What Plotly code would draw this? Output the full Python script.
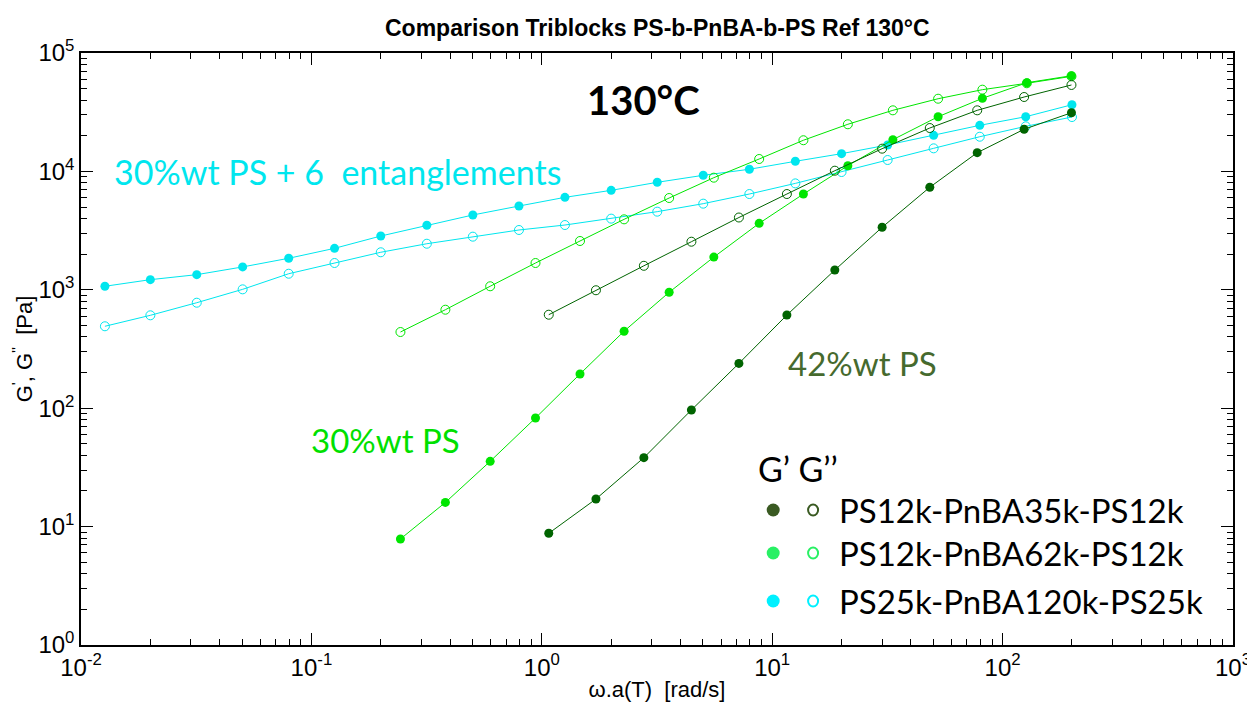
import plotly.graph_objects as go

# ---- data ----
w_c = [0.0127, 0.0200, 0.0318, 0.0503, 0.0797, 0.126, 0.200, 0.317, 0.502, 0.796, 1.26,
       2.00, 3.17, 5.02, 7.96, 12.6, 20.0, 31.7, 50.2, 79.6, 126, 200]
Gp_c = [1071, 1218, 1342, 1560, 1846, 2240, 2846, 3508, 4285, 5100, 6040,
        6920, 8090, 9270, 10420, 12170, 14120, 16720, 20170, 24500, 28970, 36570]
Gpp_c = [492, 609, 778, 1009, 1367, 1684, 2075, 2450, 2810, 3200, 3525,
         3990, 4570, 5340, 6440, 7920, 9880, 12480, 15660, 19630, 24030, 28790]

w_g = [0.2435, 0.3815, 0.597, 0.939, 1.465, 2.276, 3.571, 5.58, 8.78, 13.66, 21.3,
       33.4, 52.5, 81.7, 127.4, 199]
Gp_g = [7.86, 16.0, 35.6, 82.7, 194.5, 447, 953, 1890, 3644, 6440, 11170,
        18530, 28970, 41420, 56100, 64300]
Gpp_g = [440, 679, 1071, 1684, 2583, 3937, 5960, 8850, 12730, 18330, 25000,
         32800, 41100, 49000, 55500, 63500]

w_d = [1.072, 1.718, 2.773, 4.46, 7.17, 11.58, 18.7, 30.0, 48.3, 77.6, 124, 199]
Gp_d = [8.78, 17.1, 38.2, 96.6, 239, 612, 1469, 3373, 7345, 14390, 22700, 31300]
Gpp_d = [616, 991, 1595, 2548, 4080, 6440, 10140, 15560, 23250, 32800, 42500, 53700]

legend_labels = ["PS12k-PnBA35k-PS12k", "PS12k-PnBA62k-PS12k", "PS25k-PnBA120k-PS25k"]

x_exps = [-2, -1, 0, 1, 2, 3]
y_exps = [0, 1, 2, 3, 4, 5]

C_CYAN = "#00E6EE"
C_GREEN = "#00E600"
C_DARK = "#006400"
LEG_COLORS = ["#3A5A22", "#28F064", "#00F0FF"]

fig = go.Figure()

def add_pair(w, gp, gpp, color):
    fig.add_trace(go.Scatter(x=w, y=gp, mode="lines+markers",
                             line=dict(color=color, width=1),
                             marker=dict(symbol="circle", size=9, color=color),
                             showlegend=False, hoverinfo="skip"))
    fig.add_trace(go.Scatter(x=w, y=gpp, mode="lines+markers",
                             line=dict(color=color, width=1),
                             marker=dict(symbol="circle-open", size=9, color=color,
                                         line=dict(width=1, color=color)),
                             showlegend=False, hoverinfo="skip"))

add_pair(w_c, Gp_c, Gpp_c, C_CYAN)
add_pair(w_g, Gp_g, Gpp_g, C_GREEN)
add_pair(w_d, Gp_d, Gpp_d, C_DARK)

# plot area pixels
L, R, T, B = 73, 1228, 45, 637
W, H = 1255, 707

def px(x):
    return (x - L) / (R - L)

def py(y):
    return (B - y) / (B - T)

def ticks_for(exps):
    vals = [10.0 ** e for e in exps]
    text = ["10<sup>%d</sup>" % e for e in exps]
    minor = [m * 10.0 ** e for e in exps[:-1] for m in range(2, 10)]
    return vals, text, minor

def axis_style(exps):
    vals, text, minor = ticks_for(exps)
    return dict(type="log", showline=True, linecolor="black", linewidth=1.5,
                mirror="allticks", ticks="inside", ticklen=12, tickwidth=1,
                tickcolor="black", showgrid=False, zeroline=False,
                tickmode="array", tickvals=vals, ticktext=text,
                tickfont=dict(family="Liberation Sans, Arial", size=24, color="black"),
                minor=dict(ticks="inside", ticklen=6, tickwidth=1, tickcolor="black",
                           tickmode="array", tickvals=minor, showgrid=False))

fig.update_xaxes(range=[-2, 3], **axis_style(x_exps),
                 title=dict(text="\u03c9.a(T)  [rad/s]", standoff=2,
                            font=dict(family="Liberation Sans, Arial", size=22, color="black")))
fig.update_yaxes(range=[0, 5], **axis_style(y_exps),
                 title=dict(text="G<sup>'</sup>, G<sup>''</sup>  [Pa]", standoff=0,
                            font=dict(family="Liberation Sans, Arial", size=22, color="black")))

ann = []
ann.append(dict(text="<b>Comparison Triblocks PS-b-PnBA-b-PS Ref 130°C</b>", x=0.5, y=(B - 20) / (B - T),
                xref="paper", yref="paper", showarrow=False, xanchor="center", yanchor="middle",
                font=dict(family="Liberation Sans, Arial", size=23, color="black")))
ann.append(dict(text="<b>130°C</b>", x=px(637), y=py(92), xref="paper", yref="paper",
                showarrow=False, xanchor="center", yanchor="middle",
                font=dict(family="Lato", size=40, color="black")))
ann.append(dict(text="30%wt PS + 6  entanglements", x=px(104), y=py(163), xref="paper", yref="paper",
                showarrow=False, xanchor="left", yanchor="middle",
                font=dict(family="Lato", size=34, color=C_CYAN)))
ann.append(dict(text="30%wt PS", x=px(302), y=py(432), xref="paper", yref="paper",
                showarrow=False, xanchor="left", yanchor="middle",
                font=dict(family="Lato", size=33, color="#00E000")))
ann.append(dict(text="42%wt PS", x=px(780), y=py(355), xref="paper", yref="paper",
                showarrow=False, xanchor="left", yanchor="middle",
                font=dict(family="Lato", size=33, color="#466A2E")))
ann.append(dict(text="G\u2019 G\u2019\u2019", x=px(750), y=py(460), xref="paper", yref="paper",
                showarrow=False, xanchor="left", yanchor="middle",
                font=dict(family="Lato", size=34, color="black")))
rows_y = [502, 545, 593]
for lab, yy in zip(legend_labels, rows_y):
    ann.append(dict(text=lab, x=px(831), y=py(yy), xref="paper", yref="paper",
                    showarrow=False, xanchor="left", yanchor="middle",
                    font=dict(family="Lato", size=33, color="black")))
# cut-off slide text on the right edge
for ch, yy in zip(["S", "r", "A", "t"], [150, 212, 318, 372]):
    ann.append(dict(text=ch, x=px(1241), y=py(yy), xref="paper", yref="paper",
                    showarrow=False, xanchor="left", yanchor="middle",
                    font=dict(family="Lato", size=38, color="black")))

shapes = []
for col, yy in zip(LEG_COLORS, rows_y):
    shapes.append(dict(type="circle", xref="paper", yref="paper", xsizemode="pixel", ysizemode="pixel",
                       xanchor=px(767), yanchor=py(yy), x0=-6.5, x1=6.5, y0=-6.5, y1=6.5,
                       fillcolor=col, line=dict(color=col, width=0)))
    shapes.append(dict(type="circle", xref="paper", yref="paper", xsizemode="pixel", ysizemode="pixel",
                       xanchor=px(807), yanchor=py(yy), x0=-5, x1=5, y0=-5.5, y1=5.5,
                       fillcolor="rgba(0,0,0,0)", line=dict(color=col, width=2)))

fig.update_layout(width=W, height=H, autosize=False,
                  margin=dict(l=L, r=W - R, t=T, b=H - B),
                  paper_bgcolor="white", plot_bgcolor="white",
                  annotations=ann, shapes=shapes, showlegend=False)

fig.write_html("out.html")
